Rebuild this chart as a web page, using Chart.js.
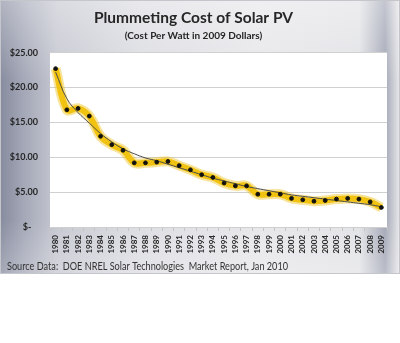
<!DOCTYPE html>
<html>
<head>
<meta charset="utf-8">
<script src="https://cdn.jsdelivr.net/npm/chart.js@4.4.1/dist/chart.umd.min.js"></script>
<style>
  html, body { margin: 0; padding: 0; background: #fff; }
  #frame {
    position: relative;
    width: 398px;
    height: 272px;
    border: 1px solid #c4c6cc;
    background:
      linear-gradient(to bottom, rgba(255,255,255,0.35) 0%, rgba(255,255,255,0) 30%, rgba(255,255,255,0) 80%, rgba(255,255,255,0.25) 100%),
      linear-gradient(to right, #878c9f 0%, #a5a9b8 6%, #c6c8d1 14%, #dcdde2 35%, #e7e7ea 65%, #e2e3e6 90%, #a3a7b6 96.5%, #d2d3d9 99%, #e6e6e8 100%);
  }
  canvas { position: absolute; left: -1px; top: -1px; }
</style>
</head>
<body>
<div id="frame"><canvas id="chart" width="400" height="274"></canvas></div>
<script>
// ================= DATA =================
const years = ['1980','1981','1982','1983','1984','1985','1986','1987','1988','1989',
               '1990','1991','1992','1993','1994','1995','1996','1997','1998','1999',
               '2000','2001','2002','2003','2004','2005','2006','2007','2008','2009'];

// cost per watt, 2009 dollars
const costPerWatt = [22.7, 16.8, 17.0, 15.9, 13.0, 11.8, 11.0, 9.2, 9.2, 9.3,
                     9.4, 8.8, 8.2, 7.5, 7.1, 6.3, 5.9, 5.9, 4.7, 4.7,
                     4.7, 4.1, 3.9, 3.7, 3.8, 4.0, 4.1, 4.0, 3.6, 2.8];

// trendline as drawn in the picture
const trendValues = [22.2, 18.4, 16.4, 14.9, 13.4, 12.2, 11.2, 10.5, 9.9, 9.5,
                     9.0, 8.5, 8.0, 7.5, 7.0, 6.6, 6.2, 5.8, 5.5, 5.2,
                     4.9, 4.6, 4.4, 4.2, 4.0, 3.8, 3.6, 3.4, 3.2, 2.9];

const yTicks = [0, 5, 10, 15, 20, 25];

const FONT = 'Lato, "Open Sans", sans-serif';
const TEXT = '#262626';

/* ================= SOURCE NOTE ================= */
// the original font is narrower than Lato, so squeeze the line to the same width
const sourceNote = {
  id: 'sourceNote',
  afterDraw(chart) {
    const ctx = chart.ctx;
    const txt = 'Source Data:  DOE NREL Solar Technologies  Market Report, Jan 2010';
    ctx.save();
    ctx.font = '11px ' + FONT;
    ctx.fillStyle = '#333';
    ctx.textBaseline = 'middle';
    const w = ctx.measureText(txt).width;
    ctx.translate(7, 266);
    ctx.scale(281 / w, 1);
    ctx.fillText(txt, 0, 0);
    ctx.restore();
  }
};

new Chart(document.getElementById('chart'), {
  type: 'line',
  data: {
    labels: years,
    datasets: [
      {
        // soft glow under the yellow line
        data: costPerWatt,
        borderColor: 'rgba(238,194,30,0.45)',
        borderWidth: 10,
        tension: 0.4,
        pointRadius: 0,
        order: 4
      },
      {
        data: costPerWatt,
        borderColor: '#f1c20f',
        borderWidth: 6,
        tension: 0.4,
        pointRadius: 0,
        order: 3
      },
      {
        data: trendValues,
        borderColor: '#4a4a4a',
        borderWidth: 1,
        tension: 0.4,
        pointRadius: 0,
        order: 2
      },
      {
        data: costPerWatt,
        showLine: false,
        pointStyle: 'circle',
        pointRadius: 1.9,
        pointBackgroundColor: '#111',
        pointBorderColor: '#111',
        order: 1
      }
    ]
  },
  options: {
    responsive: false,
    animation: false,
    layout: { padding: { left: 0, right: 13, top: 0, bottom: 0 } },
    plugins: {
      legend: { display: false },
      tooltip: { enabled: false },
      title: {
        display: true,
        text: 'Plummeting Cost of Solar PV',
        color: TEXT,
        font: { family: FONT, size: 15.5, weight: 'bold' },
        padding: { top: 9, bottom: 2 }
      },
      subtitle: {
        display: true,
        text: '(Cost Per Watt in 2009 Dollars)',
        color: TEXT,
        font: { family: FONT, size: 10, weight: 'bold' },
        padding: { top: 0, bottom: 11 }
      }
    },
    scales: {
      x: {
        offset: true,
        grid: {
          display: true,
          drawOnChartArea: false,
          offset: true,
          tickLength: 4,
          color: '#c4c4c4'
        },
        border: { display: true, color: '#cfcfcf' },
        ticks: {
          minRotation: 90,
          maxRotation: 90,
          autoSkip: false,
          padding: 4,
          color: TEXT,
          font: { family: FONT, size: 8, weight: 'bold' }
        },
        afterFit(scale) { scale.height = 47; }
      },
      y: {
        min: 0,
        max: 25,
        afterBuildTicks(scale) { scale.ticks = yTicks.map(v => ({ value: v })); },
        grid: { color: '#d0d0d0', drawTicks: false },
        border: { display: false },
        ticks: {
          padding: 12,
          color: TEXT,
          font: { family: FONT, size: 9, weight: 'bold' },
          callback: v => v === 0 ? '$-   ' : '$' + Number(v).toFixed(2)
        },
        afterFit(scale) { scale.width = 50; }
      }
    }
  },
  plugins: [sourceNote, {
    id: 'plotBg',
    beforeDraw(chart) {
      const { ctx, chartArea: a } = chart;
      ctx.save();
      ctx.fillStyle = '#fff';
      ctx.fillRect(a.left, a.top, a.right - a.left, a.bottom - a.top);
      ctx.restore();
    }
  }]
});
</script>
</body>
</html>
